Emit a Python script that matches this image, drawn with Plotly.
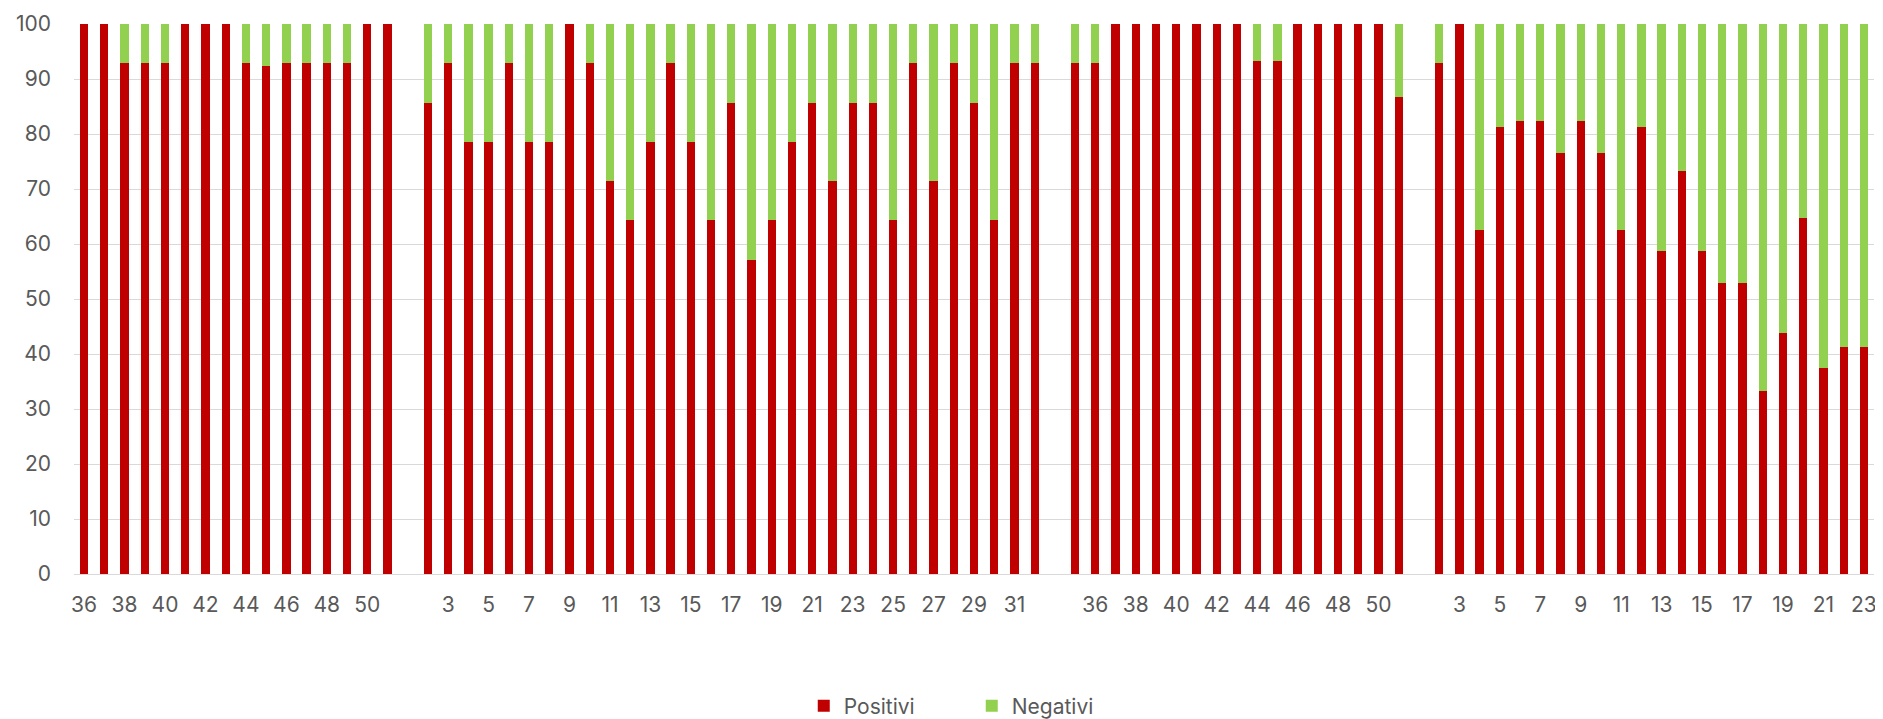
import plotly.graph_objects as go

# Group labels (weeks) and values (percent)
g1_labels = ["36","37","38","39","40","41","42","43","44","45","46","47","48","49","50","51"]
g1_pos = [100,100,92.9,92.9,92.9,100,100,100,92.9,92.3,92.9,92.9,92.9,92.9,100,100]
g1_neg = [0,0,7.1,7.1,7.1,0,0,0,7.1,7.7,7.1,7.1,7.1,7.1,0,0]

g2_labels = [str(i) for i in range(2, 33)]
g2_pos = [85.7,92.9,78.6,78.6,92.9,78.6,78.6,100,92.9,71.4,64.3,78.6,92.9,78.6,64.3,85.7,
          57.1,64.3,78.6,85.7,71.4,85.7,85.7,64.3,92.9,71.4,92.9,85.7,64.3,92.9,92.9]
g2_neg = [14.3,7.1,21.4,21.4,7.1,21.4,21.4,0,7.1,28.6,35.7,21.4,7.1,21.4,35.7,14.3,
          42.9,35.7,21.4,14.3,28.6,14.3,14.3,35.7,7.1,28.6,7.1,14.3,35.7,7.1,7.1]

g3_labels = [str(i) for i in range(35, 52)]
g3_pos = [92.9,92.9,100,100,100,100,100,100,100,93.3,93.3,100,100,100,100,100,86.7]
g3_neg = [7.1,7.1,0,0,0,0,0,0,0,6.7,6.7,0,0,0,0,0,13.3]

g4_labels = [str(i) for i in range(2, 24)]
g4_pos = [92.9,100,62.5,81.25,82.4,82.4,76.5,82.4,76.5,62.5,81.25,58.8,73.3,58.8,52.9,52.9,
          33.3,43.75,64.7,37.5,41.2,41.2]
g4_neg = [7.1,0,37.5,18.75,17.6,17.6,23.5,17.6,23.5,37.5,18.75,41.2,26.7,41.2,47.1,47.1,
          66.7,56.25,35.3,62.5,58.8,58.8]

groups = [(g1_labels, g1_pos, g1_neg), (g2_labels, g2_pos, g2_neg),
          (g3_labels, g3_pos, g3_neg), (g4_labels, g4_pos, g4_neg)]

# Build a single category sequence with a blank slot between groups
labels, pos, neg = [], [], []
for k, (lab, p, n) in enumerate(groups):
    if k > 0:
        labels.append("")
        pos.append(None)
        neg.append(None)
    labels += lab
    pos += p
    neg += n

x = list(range(len(labels)))
tickvals = x[::2]
ticktext = labels[::2]

font_family = "Inter, 'Open Sans', sans-serif"
grey = "#595959"
fs = 21

fig = go.Figure()
fig.add_trace(go.Bar(x=x, y=pos, name="Positivi", marker=dict(color="#C00000", line=dict(width=0))))
fig.add_trace(go.Bar(x=x, y=neg, name="Negativi", marker=dict(color="#92D050", line=dict(width=0))))

fig.update_layout(
    barmode="stack",
    bargap=0.59,
    width=1875, height=711,
    margin=dict(l=66, r=9, t=16, b=145, autoexpand=False),
    plot_bgcolor="white", paper_bgcolor="white",
    font=dict(family=font_family, size=fs, color=grey),
    showlegend=True,
    legend=dict(orientation="h", x=0.514, xanchor="center", xref="container",
                y=0.018, yanchor="middle", yref="container",
                traceorder="normal", font=dict(size=21, color=grey),
                entrywidth=123, itemwidth=30),
    xaxis=dict(range=[-0.5, len(labels) - 0.5], tickmode="array", tickvals=tickvals,
               ticktext=ticktext, showgrid=False, zeroline=False, showline=True,
               linecolor="#d9d9d9", linewidth=1, ticks="", ticklen=0,
               ticklabelstandoff=12,
               tickfont=dict(size=fs, color=grey), fixedrange=True),
    yaxis=dict(range=[0, 100], dtick=10, showgrid=True, gridcolor="#d9d9d9", gridwidth=1,
               zeroline=False, showline=False, ticks="", ticklabelstandoff=22,
               tickfont=dict(size=fs, color=grey), fixedrange=True),
)

fig.write_html("out.html")
